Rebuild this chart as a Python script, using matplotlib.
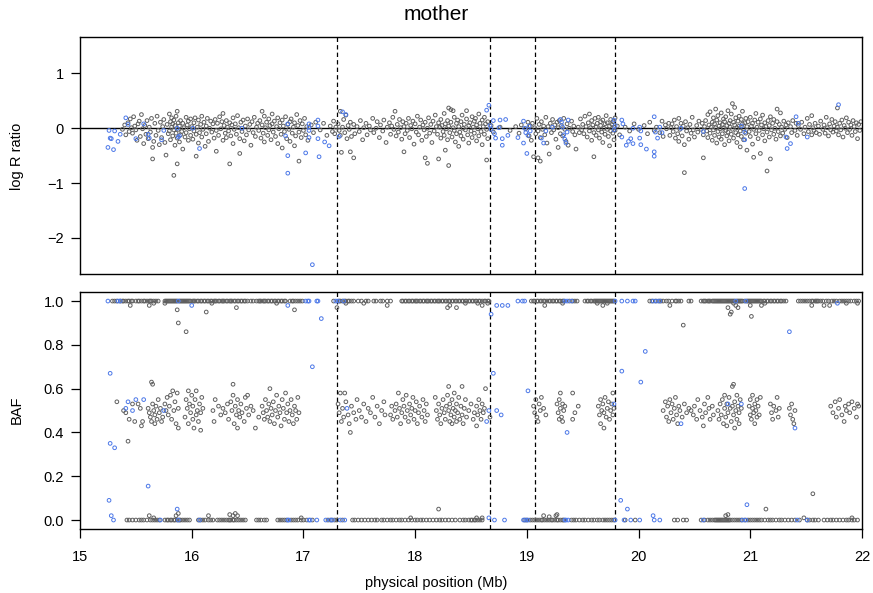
import numpy as np
import matplotlib
matplotlib.use('Agg')
from matplotlib import pyplot as plt

plt.rcParams['font.family'] = ['Liberation Sans', 'DejaVu Sans']

title = "mother"
x_label = "physical position (Mb)"
lrr_label = "log R ratio"
baf_label = "BAF"
x_ticks = [15, 16, 17, 18, 19, 20, 21, 22]
lrr_ticks = [-2, -1, 0, 1]
baf_ticks = [0.0, 0.2, 0.4, 0.6, 0.8, 1.0]
boundaries = [17.30, 18.67, 19.07, 19.79]

# log R ratio, grey (position Mb, value)
lrr_grey = [
    (15.38,-0.02),(15.40,0.06),(15.41,-0.12),(15.43,0.10),(15.44,-0.06),(15.45,0.17),(15.46,0.01),(15.47,-0.09),
    (15.48,0.21),(15.49,0.04),(15.50,-0.03),(15.51,-0.22),(15.52,0.08),(15.53,0.13),(15.54,-0.15),(15.55,0.25),
    (15.56,-0.01),(15.57,-0.28),(15.58,0.05),(15.59,-0.11),(15.60,0.14),(15.61,-0.19),(15.62,0.02),(15.63,-0.07),
    (15.64,0.18),(15.65,-0.35),(15.65,-0.56),(15.66,-0.24),(15.67,0.09),(15.68,-0.13),(15.69,0.22),(15.70,-0.04),
    (15.71,-0.30),(15.72,0.11),(15.73,-0.17),(15.74,0.03),(15.75,0.16),(15.76,-0.26),(15.77,-0.49),(15.78,0.07),
    (15.79,-0.10),(15.80,0.26),
    (15.80,-0.05),(15.81,0.12),(15.81,-0.21),(15.82,0.02),(15.82,0.19),(15.83,-0.14),(15.83,0.08),(15.84,-0.86),
    (15.84,-0.03),(15.84,0.15),(15.85,-0.31),(15.85,0.05),(15.86,-0.09),(15.86,0.22),(15.87,0.31),(15.87,-0.65),
    (15.87,-0.18),(15.88,0.10),(15.88,-0.02),(15.89,-0.25),(15.89,0.04),(15.90,0.14),(15.90,-0.12),(15.91,-0.06),
    (15.92,0.09),(15.92,-0.38),(15.93,0.01),(15.94,-0.16),(15.95,0.20),(15.95,-0.08),(15.96,0.06),(15.97,-0.22),
    (15.97,0.13),(15.98,-0.01),(15.99,-0.13),(15.99,0.17),(16.00,0.03),
    (16.01,-0.20),(16.02,0.10),(16.02,-0.05),(16.03,0.19),(16.04,-0.51),(16.04,-0.11),(16.05,0.02),(16.06,0.15),
    (16.06,-0.27),(16.07,-0.08),(16.08,0.07),(16.09,-0.16),(16.09,0.22),(16.10,-0.02),(16.11,0.11),(16.12,-0.33),
    (16.13,0.04),(16.13,-0.10),(16.14,0.18),(16.15,-0.24),(16.16,0.00),(16.17,0.13),(16.18,-0.07),(16.19,0.08),
    (16.20,-0.18),(16.21,0.16),(16.22,-0.42),(16.22,-0.04),(16.23,0.09),(16.24,-0.13),(16.25,0.21),(16.26,-0.01),
    (16.27,0.12),(16.28,0.27),(16.28,-0.22),(16.29,0.05),(16.30,-0.09),(16.31,0.14),(16.31,-0.17),(16.32,0.02),
    (16.33,-0.05),(16.34,-0.65),(16.34,0.10),(16.35,-0.14),(16.36,0.06),(16.37,-0.28),(16.37,0.19),(16.38,-0.02),
    (16.39,0.08),(16.40,-0.11),(16.41,0.23),(16.42,0.01),(16.43,-0.46),(16.43,-0.19),(16.44,0.11),(16.45,-0.06),
    (16.46,0.15),(16.47,-0.23),(16.48,0.04),(16.49,-0.12),(16.50,0.17),(16.51,-0.03),(16.52,0.07),(16.53,-0.31),
    (16.54,0.12),(16.55,-0.08),(16.56,0.20),(16.57,-0.15),(16.58,0.02),(16.59,0.09),
    (16.60,-0.04),(16.61,0.14),(16.62,-0.18),(16.63,0.31),(16.63,0.06),(16.64,-0.09),(16.65,0.22),(16.65,-0.25),
    (16.66,0.01),(16.67,0.11),(16.68,-0.13),(16.69,0.17),(16.69,-0.03),(16.70,0.05),(16.71,-0.21),(16.72,0.26),
    (16.72,0.08),(16.73,-0.07),(16.74,0.13),(16.75,-0.15),(16.76,0.03),(16.77,0.19),(16.77,-0.28),(16.78,-0.01),
    (16.79,0.10),(16.80,-0.11),(16.81,0.15),(16.81,-0.36),(16.82,0.04),(16.83,-0.06),(16.84,0.21),(16.85,-0.19),
    (16.86,0.07),(16.87,-0.02),(16.88,0.12),(16.88,-0.24),(16.89,0.17),(16.90,-0.09),(16.91,0.02),(16.92,-0.32),
    (16.92,0.10),(16.93,-0.14),(16.94,0.25),(16.95,0.05),(16.96,-0.60),(16.96,-0.07),(16.97,0.14),(16.98,-0.17),
    (16.99,0.08),(17.00,-0.04),(17.01,0.18),(17.02,-0.12),(17.03,0.03),(17.04,-0.22),
    (17.07,0.06),(17.09,-0.08),(17.11,0.11),(17.15,-0.03),(17.18,0.09),(17.21,-0.13),(17.24,0.04),(17.26,-0.06),
    (17.27,0.13),(17.28,-0.10),(17.29,0.02),
    (17.31,0.08),(17.32,-0.04),(17.33,0.31),(17.33,-0.13),(17.34,-0.44),(17.35,0.02),(17.36,0.16),(17.37,-0.08),
    (17.38,0.24),(17.39,-0.19),(17.40,0.05),(17.41,-0.02),(17.42,-0.43),(17.42,0.11),(17.43,-0.15),(17.45,-0.54),
    (17.45,0.07),(17.46,-0.10),(17.48,0.03),(17.50,-0.06),(17.51,0.14),(17.53,-0.21),(17.54,0.01),(17.56,0.09),
    (17.57,-0.12),(17.59,0.04),(17.60,-0.03),(17.62,0.18),(17.63,-0.08),(17.65,0.00),(17.66,0.12),(17.68,-0.17),
    (17.69,0.06),(17.71,-0.05),(17.72,0.15),(17.74,-0.26),(17.75,0.02),(17.77,0.10),(17.78,-0.11),(17.79,0.04),
    (17.80,0.20),(17.81,-0.02),(17.82,0.31),(17.83,-0.14),(17.84,0.07),(17.85,-0.07),(17.86,0.16),(17.87,0.01),
    (17.88,-0.20),(17.89,0.12),(17.90,-0.43),(17.90,0.03),(17.91,-0.10),(17.92,0.09),(17.93,-0.04),(17.94,0.18),
    (17.95,-0.17),(17.96,0.05),(17.97,-0.01),(17.98,0.13),(17.99,-0.29),(18.00,0.08),(18.01,-0.07),(18.02,0.22),
    (18.03,-0.12),(18.04,0.02),(18.05,0.15),(18.06,-0.22),(18.07,0.06),(18.08,-0.03),(18.09,-0.54),(18.09,0.11),
    (18.10,-0.15),(18.11,-0.64),(18.11,0.00),(18.12,0.19),(18.13,-0.09),(18.14,0.07),(18.15,-0.26),(18.16,0.13),
    (18.17,-0.05),(18.18,0.24),(18.19,0.03),
    (18.20,-0.11),(18.21,-0.56),(18.21,0.10),(18.22,0.02),(18.23,-0.18),(18.23,0.16),(18.24,0.05),(18.25,-0.06),
    (18.26,0.27),(18.26,-0.13),(18.27,-0.40),(18.27,0.08),(18.28,-0.01),(18.29,0.14),(18.29,-0.21),(18.30,0.37),
    (18.30,-0.68),(18.30,0.04),(18.31,-0.08),(18.32,0.34),(18.32,0.11),(18.33,-0.16),(18.34,0.32),(18.34,0.01),
    (18.35,-0.04),(18.35,0.20),(18.36,-0.25),(18.37,0.09),(18.37,-0.10),(18.38,0.15),(18.39,0.03),(18.39,-0.33),
    (18.40,-0.07),(18.41,0.12),(18.41,-0.14),(18.42,0.24),(18.43,0.00),(18.43,-0.20),(18.44,0.07),(18.45,-0.03),
    (18.46,0.32),(18.46,0.17),(18.47,-0.12),(18.48,0.05),(18.48,-0.27),(18.49,0.10),(18.50,-0.05),(18.51,0.21),
    (18.51,-0.17),(18.52,0.02),(18.53,0.13),(18.53,-0.09),(18.54,0.18),(18.55,-0.23),(18.55,0.06),(18.56,-0.01),
    (18.57,0.26),(18.57,-0.14),(18.58,0.09),(18.59,-0.06),(18.60,0.15),(18.60,-0.30),(18.61,0.03),(18.62,0.20),
    (18.62,-0.11),(18.63,0.08),(18.64,-0.58),(18.64,-0.02),(18.65,0.12),(18.65,-0.19),
    (18.68,0.05),(18.70,-0.07),(18.76,0.02),(18.85,-0.04),(18.90,0.03),(18.93,-0.09),(18.95,0.06),(18.99,-0.01),
    (19.01,0.11),(19.02,-0.14),(19.03,0.04),(19.04,-0.22),(19.05,0.09),
    (19.06,-0.52),(19.07,0.01),(19.08,-0.10),(19.09,0.18),(19.10,-0.54),(19.10,-0.05),(19.11,0.07),(19.12,-0.17),
    (19.12,-0.60),(19.13,0.12),(19.14,-0.02),(19.15,0.04),(19.16,-0.12),(19.17,0.20),(19.18,-0.27),(19.19,0.03),
    (19.20,-0.47),(19.21,0.09),(19.22,-0.08),(19.23,0.16),(19.24,-0.03),(19.25,0.06),(19.26,-0.20),(19.27,0.11),
    (19.28,-0.35),(19.28,0.01),(19.29,0.14),(19.30,-0.10),(19.31,0.05),(19.32,-0.14),(19.33,0.18),(19.34,-0.02),
    (19.35,-0.24),(19.36,0.08),(19.37,-0.31),(19.38,0.00),(19.40,0.13),(19.41,-0.06),(19.42,0.04),(19.43,-0.12),
    (19.44,-0.38),(19.46,0.02),(19.47,-0.08),(19.48,0.17),(19.49,-0.03),(19.50,0.07),
    (19.51,-0.10),(19.52,0.22),(19.53,0.03),(19.54,-0.16),(19.55,0.10),(19.56,0.26),(19.56,-0.05),(19.57,0.01),
    (19.58,0.14),(19.58,-0.22),(19.59,0.06),(19.60,-0.52),(19.60,-0.08),(19.61,0.18),(19.62,0.02),(19.62,-0.13),
    (19.63,0.09),(19.64,-0.03),(19.64,0.20),(19.65,-0.18),(19.66,0.05),(19.66,0.12),(19.67,-0.07),(19.68,0.15),
    (19.68,-0.26),(19.69,0.00),(19.70,0.08),(19.70,-0.11),(19.71,0.23),(19.72,-0.02),(19.72,0.10),(19.73,-0.15),
    (19.74,0.04),(19.74,-0.32),(19.75,0.16),(19.75,-0.05),(19.76,0.07),(19.77,-0.09),(19.77,0.12),(19.78,-0.21),
    (19.78,0.02),(19.79,0.19),(19.79,-0.04),
    (19.81,0.04),(19.83,-0.12),(19.88,0.02),(19.92,-0.05),(19.96,0.08),(20.00,-0.02),(20.05,0.05),(20.08,-0.10),
    (20.10,0.11),(20.14,-0.04),(20.16,0.02),(20.19,-0.08),(20.21,0.13),(20.22,-0.15),(20.24,0.06),(20.25,-0.01),
    (20.27,0.09),(20.28,-0.13),(20.29,0.01),
    (20.30,0.08),(20.31,-0.06),(20.32,0.15),(20.33,-0.18),(20.34,0.03),(20.35,-0.10),(20.36,0.18),(20.36,-0.24),
    (20.37,-0.02),(20.38,0.09),(20.39,-0.14),(20.40,0.04),(20.41,-0.81),(20.41,-0.30),(20.42,0.12),(20.43,-0.05),
    (20.44,0.01),(20.45,-0.20),(20.46,0.07),(20.47,-0.09),(20.48,0.20),(20.49,-0.03),(20.50,-0.16),(20.52,0.05),
    (20.53,-0.07),(20.54,0.13),(20.56,-0.02),(20.57,0.09),(20.58,-0.54),(20.58,-0.12),(20.59,0.03),
    (20.60,0.14),(20.61,-0.05),(20.62,0.25),(20.62,-0.17),(20.63,0.06),(20.64,-0.09),(20.64,0.30),(20.65,0.02),
    (20.66,-0.22),(20.66,0.11),(20.67,0.19),(20.67,-0.03),(20.68,0.08),(20.68,-0.13),(20.69,0.35),(20.69,0.01),
    (20.70,-0.27),(20.70,0.15),(20.71,-0.06),(20.71,0.23),(20.72,0.04),(20.72,-0.16),(20.73,0.10),(20.73,-0.01),
    (20.74,0.28),(20.74,-0.20),(20.75,0.07),(20.75,-0.10),(20.76,0.17),(20.76,0.00),(20.77,-0.30),(20.77,0.12),
    (20.78,-0.04),(20.78,0.21),(20.79,0.05),(20.79,-0.14),(20.80,0.32),(20.80,-0.07),(20.81,0.09),(20.81,-0.23),
    (20.82,0.14),(20.82,0.02),(20.83,-0.11),(20.83,0.26),(20.84,0.45),(20.84,-0.02),(20.85,0.11),(20.85,-0.18),
    (20.86,0.38),(20.86,0.06),(20.87,-0.08),(20.87,0.19),(20.88,-0.26),(20.88,0.01),(20.89,0.13),(20.89,-0.12),
    (20.90,0.22),(20.90,0.04),(20.91,-0.05),(20.91,-0.34),(20.92,0.16),(20.92,-0.15),(20.93,0.08),(20.93,0.31),
    (20.94,-0.01),(20.94,-0.21),(20.95,0.10),(20.96,-0.09),(20.96,0.18),(20.97,0.03),(20.97,-0.40),
    (20.98,0.12),(20.99,-0.06),(21.00,0.20),(21.00,-0.15),(21.01,0.04),(21.02,-0.29),(21.02,0.09),(21.03,-0.53),
    (21.03,-0.02),(21.04,0.15),(21.05,-0.10),(21.05,0.27),(21.06,0.02),(21.07,-0.19),(21.07,0.11),(21.08,-0.04),
    (21.09,-0.46),(21.09,0.17),(21.10,0.06),(21.11,-0.12),(21.11,0.24),(21.12,-0.01),(21.13,0.10),(21.13,-0.23),
    (21.14,0.03),(21.15,-0.78),(21.15,-0.07),(21.16,0.14),(21.17,-0.16),(21.17,0.05),(21.18,-0.56),(21.18,0.21),
    (21.19,-0.03),(21.20,0.09),(21.21,-0.11),(21.21,0.16),(21.22,0.00),(21.23,-0.20),(21.24,0.12),(21.24,0.35),
    (21.25,-0.06),(21.26,0.07),(21.27,0.28),(21.27,-0.14),(21.28,0.02),(21.29,-0.09),(21.30,0.13),(21.31,-0.02),
    (21.32,0.06),(21.33,-0.17),(21.34,0.10),
    (21.36,0.03),(21.37,-0.08),(21.38,0.14),(21.40,-0.04),(21.41,0.09),(21.42,-0.13),(21.43,0.05),(21.45,-0.02),
    (21.46,0.11),(21.48,-0.10),(21.49,0.02),(21.51,0.18),(21.52,-0.06),(21.53,0.07),(21.55,0.23),(21.55,-0.12),
    (21.56,0.01),(21.57,-0.04),(21.58,0.09),(21.59,-0.08),(21.61,0.04),(21.62,-0.11),(21.63,0.13),(21.65,-0.02),
    (21.66,0.06),(21.67,-0.09),(21.68,0.20),(21.69,0.01),(21.70,-0.14),(21.71,0.08),(21.72,-0.03),(21.73,0.16),
    (21.74,-0.07),(21.75,0.04),(21.76,0.12),(21.77,-0.05),(21.78,0.37),(21.78,0.02),(21.79,-0.12),(21.80,0.09),
    (21.81,-0.03),(21.82,0.15),(21.83,-0.16),(21.84,0.05),(21.85,0.00),(21.86,0.19),(21.87,-0.08),(21.88,0.11),
    (21.89,-0.02),(21.90,0.06),(21.91,-0.13),(21.92,0.14),(21.93,0.03),(21.94,-0.06),(21.95,0.10),(21.96,-0.19),
    (21.97,0.07),(21.98,-0.04),(21.99,0.12),
]

# log R ratio, blue
lrr_blue = [
    (15.25,-0.35),(15.26,-0.04),(15.27,-0.18),(15.28,-0.19),(15.30,-0.39),(15.31,-0.05),(15.34,-0.24),(15.36,-0.11),
    (15.41,0.19),(15.43,0.07),(15.50,-0.19),(15.57,0.08),(15.61,-0.11),(15.62,-0.18),(15.73,-0.21),(15.75,-0.04),
    (15.88,-0.16),(15.89,-0.14),(15.87,0.00),(16.07,-0.37),(16.01,0.00),(16.45,0.00),(16.84,-0.14),(16.86,-0.50),
    (16.86,-0.82),(16.86,0.08),(17.02,-0.45),(17.05,0.08),(17.05,0.02),(17.05,-0.04),(17.05,-0.17),(17.08,-2.49),
    (17.13,0.15),(17.13,-0.19),(17.14,-0.52),(17.13,0.04),(17.19,-0.25),(17.23,-0.32),(17.35,0.30),(17.38,0.25),
    (17.32,-0.15),(18.64,0.33),(18.66,0.42),(18.67,0.05),(18.68,-0.02),(18.70,0.14),(18.71,-0.10),(18.72,-0.18),
    (18.75,0.01),(18.76,0.15),(18.78,-0.19),(18.78,-0.31),(18.81,0.16),(18.83,-0.13),(18.92,-0.17),(18.97,0.13),
    (18.97,-0.27),(18.98,0.00),(18.99,-0.08),(19.00,-0.46),(19.01,-0.13),(19.02,0.04),(19.03,-0.05),(19.13,-0.18),
    (19.15,-0.27),(19.17,-0.05),(19.23,0.02),(19.30,0.16),(19.31,0.11),(19.32,0.02),(19.33,-0.12),(19.34,-0.20),
    (19.35,-0.27),(19.36,-0.07),(19.37,0.15),(19.78,0.15),(19.79,0.05),(19.78,-0.03),(19.85,0.15),(19.86,0.08),
    (19.85,-0.16),(19.89,-0.31),(19.91,-0.24),(19.93,-0.19),(19.95,-0.28),(19.95,0.00),(20.01,0.02),(20.02,-0.05),
    (20.01,-0.18),(20.02,-0.30),(20.07,-0.38),(20.14,0.21),(20.14,-0.43),(20.14,-0.51),(20.15,-0.07),(20.17,-0.18),
    (20.19,0.02),(20.21,-0.08),(20.38,0.00),(20.58,-0.06),(20.92,0.04),(20.95,-0.07),(20.95,-0.21),(20.95,-1.10),
    (21.32,-0.16),(21.33,-0.37),(21.36,-0.28),(21.41,0.21),(21.43,0.09),(21.51,-0.16),(21.79,0.43),
]

# BAF, grey heterozygous band
baf_het = [
    (15.33,0.54),(15.39,0.50),(15.41,0.49),(15.44,0.46),(15.47,0.53),(15.49,0.45),(15.52,0.53),(15.54,0.51),
    (15.55,0.43),(15.56,0.45),(15.43,0.36),
    (15.61,0.51),(15.62,0.49),(15.63,0.47),(15.64,0.63),(15.65,0.62),(15.64,0.45),(15.65,0.53),(15.66,0.50),
    (15.67,0.48),(15.67,0.44),(15.68,0.52),(15.69,0.46),(15.70,0.55),(15.71,0.49),(15.72,0.51),(15.73,0.45),
    (15.74,0.47),(15.76,0.53),(15.77,0.50),(15.78,0.56),(15.79,0.48),(15.80,0.52),(15.81,0.57),(15.82,0.46),
    (15.83,0.59),(15.84,0.50),(15.85,0.54),(15.86,0.44),(15.87,0.58),(15.88,0.42),(15.88,0.51),
    (15.94,0.47),(15.95,0.55),(15.96,0.51),(15.97,0.59),(15.97,0.44),(15.98,0.53),(15.99,0.49),(16.00,0.57),
    (16.01,0.46),(16.01,0.52),(16.02,0.42),(16.03,0.55),(16.04,0.48),(16.04,0.59),(16.05,0.50),(16.06,0.45),
    (16.07,0.53),(16.08,0.41),(16.08,0.49),(16.09,0.56),(16.10,0.51),
    (16.19,0.50),(16.20,0.45),(16.21,0.55),(16.24,0.52),(16.26,0.48),(16.28,0.51),(16.30,0.49),(16.32,0.53),
    (16.33,0.46),(16.35,0.54),(16.36,0.50),(16.37,0.62),(16.37,0.57),(16.38,0.44),(16.39,0.52),(16.40,0.48),
    (16.41,0.55),(16.41,0.42),(16.42,0.50),(16.43,0.47),(16.44,0.53),(16.45,0.49),(16.47,0.45),(16.48,0.56),
    (16.49,0.51),(16.50,0.57),(16.51,0.48),(16.53,0.52),(16.55,0.50),(16.57,0.42),(16.60,0.47),
    (16.63,0.52),(16.64,0.49),(16.65,0.46),(16.66,0.55),(16.67,0.50),(16.68,0.47),(16.69,0.53),(16.70,0.60),
    (16.70,0.45),(16.71,0.51),(16.72,0.48),(16.73,0.54),(16.74,0.44),(16.75,0.50),(16.76,0.57),(16.77,0.47),
    (16.78,0.52),(16.79,0.49),(16.80,0.43),(16.81,0.55),(16.82,0.51),(16.83,0.46),(16.84,0.58),(16.85,0.49),
    (16.86,0.53),(16.87,0.45),(16.88,0.50),(16.89,0.55),(16.90,0.48),(16.91,0.44),(16.92,0.52),(16.93,0.50),
    (16.94,0.46),(16.95,0.56),(16.96,0.49),
    (17.31,0.53),(17.32,0.49),(17.33,0.58),(17.34,0.45),(17.35,0.51),(17.36,0.47),(17.37,0.58),(17.38,0.54),
    (17.40,0.48),(17.41,0.44),(17.42,0.40),(17.43,0.52),(17.45,0.49),(17.47,0.46),(17.48,0.55),(17.50,0.50),
    (17.52,0.47),(17.54,0.53),(17.56,0.45),(17.58,0.51),(17.60,0.49),(17.62,0.56),(17.64,0.47),(17.66,0.52),
    (17.68,0.44),(17.70,0.50),(17.72,0.54),(17.73,0.48),
    (17.78,0.48),(17.79,0.52),(17.80,0.46),(17.82,0.50),(17.83,0.53),(17.84,0.47),(17.85,0.58),(17.86,0.51),
    (17.87,0.44),(17.88,0.49),(17.89,0.55),(17.90,0.52),(17.91,0.47),(17.92,0.57),(17.93,0.50),(17.94,0.45),
    (17.95,0.53),(17.96,0.48),(17.97,0.51),(17.98,0.56),(17.99,0.46),(18.00,0.50),(18.01,0.54),(18.02,0.44),
    (18.03,0.49),(18.04,0.52),(18.06,0.47),(18.07,0.55),(18.08,0.50),(18.09,0.45),(18.10,0.53),(18.11,0.48),
    (18.18,0.56),(18.19,0.50),(18.20,0.46),(18.21,0.53),(18.22,0.48),(18.23,0.44),(18.24,0.51),(18.25,0.55),
    (18.26,0.49),(18.27,0.46),(18.28,0.52),(18.29,0.57),(18.30,0.61),(18.30,0.50),(18.31,0.45),(18.31,0.53),
    (18.32,0.48),(18.33,0.55),(18.33,0.44),(18.34,0.51),(18.35,0.47),(18.35,0.58),(18.36,0.50),(18.37,0.45),
    (18.37,0.53),(18.38,0.49),(18.39,0.56),(18.40,0.46),(18.41,0.52),(18.42,0.61),(18.42,0.48),(18.43,0.44),
    (18.44,0.51),(18.45,0.55),(18.46,0.47),(18.48,0.50),(18.50,0.53),(18.52,0.46),(18.53,0.49),(18.55,0.43),
    (18.55,0.52),(18.56,0.48),(18.57,0.55),(18.58,0.50),(18.59,0.46),(18.60,0.53),(18.61,0.49),(18.62,0.51),
    (18.63,0.60),(18.67,0.47),
    (19.06,0.52),(19.07,0.49),(19.08,0.55),(19.09,0.47),(19.10,0.45),(19.11,0.53),(19.12,0.50),(19.13,0.56),
    (19.15,0.51),(19.17,0.48),(19.27,0.53),(19.28,0.49),(19.29,0.46),(19.29,0.55),(19.30,0.58),(19.30,0.51),
    (19.31,0.47),(19.32,0.53),(19.32,0.45),(19.33,0.50),(19.34,0.52),(19.41,0.58),(19.41,0.46),(19.43,0.49),
    (19.46,0.52),
    (19.64,0.52),(19.65,0.48),(19.66,0.44),(19.66,0.55),(19.67,0.50),(19.68,0.53),(19.69,0.42),(19.69,0.49),
    (19.70,0.56),(19.71,0.47),(19.72,0.51),(19.73,0.54),(19.74,0.46),(19.75,0.50),(19.76,0.53),(19.77,0.58),
    (19.77,0.48),(19.78,0.51),
    (20.22,0.50),(20.24,0.54),(20.25,0.47),(20.26,0.52),(20.27,0.45),(20.28,0.55),(20.29,0.49),(20.30,0.53),
    (20.31,0.46),(20.32,0.51),(20.33,0.56),(20.34,0.48),(20.35,0.44),(20.36,0.52),(20.37,0.50),(20.39,0.47),
    (20.41,0.53),(20.43,0.49),(20.45,0.51),(20.47,0.50),
    (20.49,0.48),(20.50,0.52),(20.52,0.46),(20.53,0.55),(20.55,0.50),(20.57,0.47),(20.58,0.43),(20.59,0.53),
    (20.60,0.49),(20.62,0.56),(20.63,0.51),(20.64,0.46),(20.66,0.52),(20.67,0.48),
    (20.71,0.50),(20.72,0.46),(20.73,0.53),(20.74,0.48),(20.75,0.55),(20.76,0.44),(20.77,0.51),(20.77,0.57),
    (20.78,0.47),(20.79,0.53),(20.79,0.43),(20.80,0.49),(20.81,0.56),(20.82,0.51),(20.83,0.45),(20.84,0.61),
    (20.84,0.52),(20.85,0.62),(20.85,0.48),(20.86,0.42),(20.86,0.54),(20.87,0.50),(20.88,0.46),(20.88,0.57),
    (20.89,0.52),(20.90,0.49),(20.90,0.44),(20.91,0.55),(20.92,0.51),
    (20.99,0.52),(21.00,0.48),(21.00,0.55),(21.01,0.46),(21.02,0.51),(21.02,0.57),(21.03,0.49),(21.04,0.44),
    (21.04,0.53),(21.05,0.50),(21.06,0.47),(21.06,0.55),(21.07,0.52),(21.08,0.48),(21.09,0.56),
    (21.18,0.53),(21.19,0.49),(21.20,0.46),(21.21,0.52),(21.23,0.50),(21.24,0.56),(21.25,0.47),(21.26,0.51),
    (21.35,0.51),(21.36,0.48),(21.37,0.53),(21.38,0.46),(21.39,0.44),(21.40,0.50),
    (21.72,0.52),(21.74,0.49),(21.76,0.54),(21.77,0.47),(21.79,0.51),(21.80,0.55),(21.82,0.48),(21.84,0.45),
    (21.85,0.52),(21.86,0.50),(21.88,0.53),(21.89,0.49),(21.91,0.54),(21.93,0.51),(21.95,0.47),(21.96,0.53),
    (21.97,0.52),
]

# BAF, grey points read at 1.00
baf_hi_x = [
    15.29,15.31,15.33,15.36,15.38,15.39,15.41,15.43,15.44,15.46,15.47,
    15.50,15.52,15.53,15.55,15.57,15.58,15.60,15.62,15.63,15.64,15.66,15.68,15.70,
    15.76,15.77,15.78,15.79,15.80,15.81,15.82,15.83,15.84,15.85,15.86,15.87,15.89,15.90,15.91,15.92,15.93,
    15.94,15.95,15.96,15.97,15.98,15.99,16.01,16.02,16.03,
    16.05,16.06,16.08,16.09,16.11,16.12,16.14,16.15,16.17,16.18,16.20,16.21,16.22,16.24,16.25,16.27,16.28,
    16.29,16.31,16.32,16.34,16.35,16.36,16.38,16.39,16.41,16.42,16.44,16.45,16.47,16.48,16.50,16.53,16.55,
    16.58,16.60,16.61,16.62,16.64,16.65,16.66,16.68,16.69,16.71,16.72,16.74,16.75,16.77,16.78,16.80,16.81,
    16.83,16.84,16.88,16.90,16.91,16.93,16.95,16.97,16.99,
    17.27,17.32,17.33,17.35,17.37,17.38,17.40,17.41,17.43,17.45,17.49,17.52,17.56,17.58,
    17.63,17.65,17.69,17.71,17.75,17.78,
    17.88,17.89,17.91,17.92,17.94,17.95,17.97,17.98,18.00,18.01,18.02,18.04,18.05,18.07,18.08,18.10,18.11,
    18.12,18.14,18.15,18.17,18.18,18.20,18.21,18.22,18.24,18.25,18.27,18.28,18.30,18.31,18.33,18.34,18.36,
    18.37,18.39,18.40,18.42,18.43,18.45,18.46,18.48,18.49,18.51,18.52,18.54,18.55,18.57,18.58,18.60,18.62,
    18.63,18.65,18.66,
    19.04,19.06,19.07,19.09,19.10,19.12,19.13,19.15,19.16,19.18,19.20,19.21,19.23,19.24,19.26,19.27,19.29,
    19.30,19.32,19.33,19.38,19.41,19.43,19.45,
    19.52,19.54,19.55,19.57,19.58,19.60,19.61,19.62,19.63,19.64,19.65,19.66,19.67,19.68,19.69,19.70,19.71,
    19.72,19.73,19.74,19.75,19.76,19.77,19.78,
    20.10,20.12,20.15,20.18,20.20,20.22,20.25,20.27,20.30,20.33,20.34,20.36,20.38,20.45,20.47,
    20.56,20.58,20.59,20.60,20.62,20.63,20.64,20.66,20.67,20.68,20.69,20.70,20.71,20.72,20.73,20.74,20.75,
    20.76,20.77,20.78,20.79,20.80,20.81,20.82,20.83,20.84,20.85,20.86,20.88,20.89,20.90,20.91,20.92,20.93,
    20.95,20.97,20.98,20.99,21.00,21.01,21.02,21.03,21.04,21.05,21.06,21.07,21.08,21.09,21.10,21.12,21.13,
    21.15,21.16,21.18,21.19,21.21,21.22,21.24,21.25,21.27,21.28,21.30,21.32,
    21.43,21.45,21.47,21.49,21.51,21.53,21.55,21.56,21.58,21.59,21.60,21.61,21.63,21.65,21.68,21.70,21.73,
    21.75,21.77,21.80,21.82,21.84,21.86,21.88,21.90,21.93,21.95,21.97,
]

# BAF, grey points just below the 1.00 band
baf_hi_dip = [
    (15.45,0.98),(15.62,0.98),(15.66,0.99),(15.87,0.96),(15.88,0.90),(15.95,0.86),(15.76,0.99),(16.13,0.95),
    (16.40,0.97),(16.92,0.96),(16.76,0.99),(16.18,0.99),(17.30,0.97),(17.38,0.99),(17.54,0.99),(17.75,0.98),
    (18.29,0.97),(18.31,0.98),(18.37,0.97),(18.45,0.99),(18.56,0.99),(18.60,0.98),(18.65,0.99),(19.16,0.98),
    (19.32,0.99),(19.63,0.99),(19.68,0.98),(19.72,0.99),(20.40,0.89),(20.28,0.98),(20.80,0.97),(20.82,0.94),
    (20.83,0.95),(20.87,0.98),(20.85,0.99),(20.89,0.97),(21.01,0.93),(21.10,0.98),(21.13,0.99),(21.00,0.98),
    (21.55,0.98),(21.66,0.98),(21.71,0.98),(21.86,0.99),(21.96,0.99),
]

# BAF, grey points read at 0.00
baf_lo_x = [
    15.42,15.44,15.47,15.50,15.53,15.55,15.57,15.60,15.63,15.65,15.67,15.69,15.71,
    15.76,15.78,15.79,15.81,15.82,15.84,15.85,15.87,15.89,15.90,15.92,15.94,15.96,15.98,
    16.06,16.08,16.10,16.12,16.15,16.17,16.19,
    16.23,16.25,16.27,16.29,16.31,16.33,16.34,16.35,16.37,16.38,16.40,16.42,16.44,16.46,16.48,
    16.58,16.60,16.62,16.65,16.67,
    16.77,16.79,16.81,16.83,16.85,16.89,16.91,16.93,16.95,16.98,17.00,17.03,17.08,
    17.22,17.25,17.28,17.30,17.35,
    17.44,17.46,17.49,17.52,17.55,17.58,17.61,17.64,17.66,17.70,17.72,17.75,17.78,17.80,17.83,17.86,17.88,
    17.91,17.94,17.97,18.00,18.02,18.05,18.07,18.10,18.13,18.16,18.19,18.22,18.24,18.27,18.30,18.33,18.36,
    18.40,18.43,18.45,18.48,18.50,18.51,18.53,18.54,18.56,18.58,18.60,
    18.98,19.00,19.03,19.05,19.07,19.09,19.11,19.13,19.14,19.16,19.18,19.20,19.22,19.23,19.25,19.27,19.28,
    19.30,19.32,19.33,
    19.40,19.42,19.44,19.47,19.50,19.52,19.55,19.58,19.60,19.63,19.65,19.68,19.70,19.72,19.74,19.76,19.78,
    19.88,19.97,20.32,20.35,20.40,20.43,
    20.56,20.59,20.62,20.64,20.66,20.68,20.69,20.70,20.71,20.72,20.73,20.74,20.75,20.76,20.77,20.78,20.79,
    20.80,20.81,20.82,20.84,20.86,20.88,20.90,20.92,20.95,20.98,21.00,21.02,21.04,21.06,
    21.08,21.10,21.13,21.16,21.18,21.20,21.23,21.26,21.28,21.31,21.34,21.37,21.40,21.44,
    21.51,21.53,21.56,21.58,21.61,
    21.66,21.69,21.72,21.74,21.77,21.80,21.83,21.86,21.88,21.91,21.93,21.96,
]

# BAF, grey points just above the 0.00 band
baf_lo_rise = [
    (15.62,0.02),(15.66,0.01),(15.86,0.02),(15.88,0.03),(16.15,0.02),(16.34,0.025),(16.37,0.02),(16.39,0.03),
    (16.41,0.02),(17.96,0.01),(18.21,0.05),(18.60,0.01),(19.15,0.02),(19.20,0.015),(19.26,0.02),(19.27,0.025),
    (20.78,0.02),(20.80,0.025),(21.14,0.05),(21.56,0.12),(21.48,0.01),(21.91,0.01),(18.55,0.01),(16.98,0.01),
]

# BAF, blue points
baf_blue = [
    (15.27,0.67),(15.27,0.35),(15.31,0.33),(15.43,0.54),(15.41,0.51),(15.47,0.50),(15.50,0.55),(15.57,0.55),
    (15.75,0.50),(17.08,0.70),(15.61,0.155),(15.26,0.09),(15.28,0.02),(15.30,0.00),(15.87,0.05),(17.16,0.92),
    (17.39,0.51),(18.70,0.67),(18.64,0.45),(18.66,0.50),(18.73,0.50),(18.77,0.48),(18.68,0.94),(19.01,0.59),
    (19.36,0.40),(19.78,0.53),(19.85,0.68),(20.02,0.63),(20.06,0.77),(20.38,0.44),(20.80,0.53),(20.92,0.53),
    (21.35,0.86),(21.40,0.42),(19.84,0.09),(19.90,0.05),(20.13,0.02),(20.97,0.07),
    (15.25,1.00),(15.34,1.00),(15.36,1.00),(15.88,1.00),(16.00,0.98),(16.86,0.98),(17.02,1.00),(17.04,1.00),
    (17.05,1.00),(17.12,1.00),(17.13,1.00),(17.29,1.00),(17.31,1.00),(17.36,1.00),(18.73,0.98),(18.78,0.98),
    (18.83,0.98),(18.92,1.00),(18.96,1.00),(18.98,1.00),(19.34,1.00),(19.36,1.00),(19.40,1.00),(19.79,1.00),
    (19.85,1.00),(19.90,1.00),(19.95,1.00),(19.97,1.00),(20.13,1.00),(20.16,1.00),(20.19,1.00),(20.87,1.00),
    (20.96,1.00),(21.78,0.99),
    (15.72,0.00),(15.88,0.00),(16.07,0.00),(16.86,0.00),(16.87,0.00),(17.05,0.00),(17.06,0.00),(17.12,0.00),
    (17.20,0.00),(17.24,0.00),(17.26,0.00),(17.33,0.00),(17.37,0.00),(18.66,0.01),(18.71,0.00),(18.80,0.00),
    (18.97,0.00),(18.99,0.00),(19.01,0.00),(19.34,0.00),(19.35,0.00),(19.37,0.00),(19.79,0.00),(19.87,0.00),
    (19.93,0.00),(20.01,0.00),(20.14,0.00),(20.19,0.00),(20.58,0.00),(20.93,0.00),(20.96,0.00),(21.42,0.00),
    (21.51,0.00),
]

GREY = '#5f5f5f'
BLUE = '#4c78e8'
W, H = 873, 593


def ax_rect(left, top, right, bottom):
    """ pixel box -> figure fraction """
    return [left / W, 1 - bottom / H, (right - left) / W, (bottom - top) / H]


def draw_points(ax, pts, color):
    xs, ys = zip(*pts)
    ax.scatter(xs, ys, s=7, facecolors='none', edgecolors=color, linewidths=0.7, zorder=3)


def style_axis(ax):
    for sp in ax.spines.values():
        sp.set_linewidth(1.0)
        sp.set_color('black')
    ax.tick_params(axis='both', direction='out', length=6.5, width=0.9, labelsize=10.5)
    ax.tick_params(axis='y', pad=5)
    ax.tick_params(axis='x', pad=9)
    for b in boundaries:
        ax.axvline(b, color='black', lw=0.9, ls=(0, (3.5, 2.5)), zorder=2)


fig = plt.figure(figsize=(W / 100, H / 100), dpi=100)

# top panel: log R ratio
ax1 = fig.add_axes(ax_rect(80, 37.3, 862, 274))
ax1.axhline(0, color='black', lw=1.0, zorder=2)
draw_points(ax1, lrr_grey, GREY)
draw_points(ax1, lrr_blue, BLUE)
ax1.set_xlim(15, 22)
ax1.set_ylim(-2.66, 1.66)
ax1.set_yticks(lrr_ticks)
ax1.set_yticklabels(['\u22122', '\u22121', '0', '1'])
ax1.set_xticks([])
style_axis(ax1)

# bottom panel: BAF
ax2 = fig.add_axes(ax_rect(80, 292.3, 862, 528.8))
hi = [(x, 1.0) for x in baf_hi_x] + baf_hi_dip
lo = [(x, 0.0) for x in baf_lo_x] + baf_lo_rise
draw_points(ax2, hi, GREY)
draw_points(ax2, lo, GREY)
draw_points(ax2, baf_het, GREY)
draw_points(ax2, baf_blue, BLUE)
ax2.set_xlim(15, 22)
ax2.set_ylim(-0.04, 1.04)
ax2.set_yticks(baf_ticks)
ax2.set_yticklabels(['%.1f' % t for t in baf_ticks])
ax2.set_xticks(x_ticks)
ax2.set_xticklabels([str(t) for t in x_ticks])
style_axis(ax2)

fig.text(0.5, 1 - 15 / H, title, ha='center', va='center', fontsize=15)
fig.text(0.5, 1 - 583 / H, x_label, ha='center', va='center', fontsize=10.5)
fig.text(17 / W, 1 - 156 / H, lrr_label, ha='center', va='center', rotation=90, fontsize=10.5)
fig.text(17 / W, 1 - 410 / H, baf_label, ha='center', va='center', rotation=90, fontsize=10.5)

fig.savefig('out.png', dpi=100)
plt.close(fig)
